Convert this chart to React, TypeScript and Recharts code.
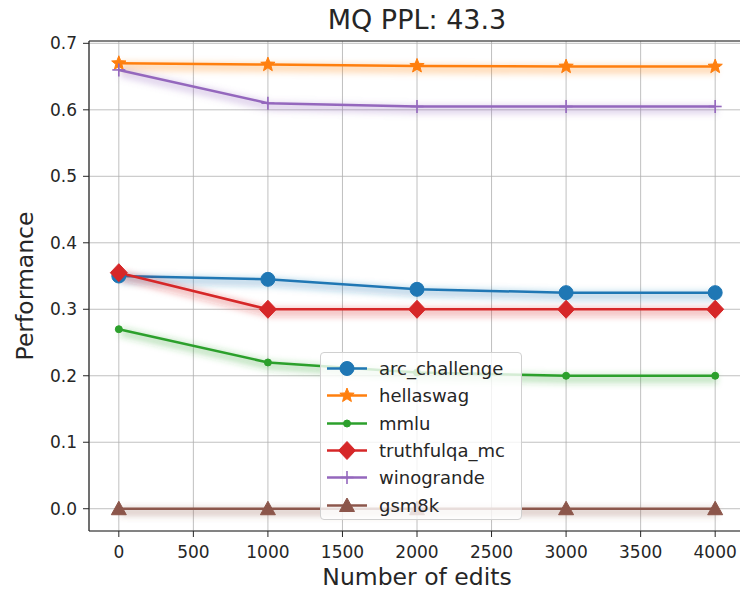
import React from 'react';
import { LineChart, Line, XAxis, YAxis, CartesianGrid, Legend, ReferenceLine } from 'recharts';

const edits = [0, 1000, 2000, 3000, 4000];
const arcChallenge = [0.35, 0.345, 0.33, 0.325, 0.325];
const hellaswag = [0.67, 0.668, 0.666, 0.665, 0.665];
const mmlu = [0.27, 0.22, 0.205, 0.2, 0.2];
const truthfulqaMc = [0.355, 0.3, 0.3, 0.3, 0.3];
const winogrande = [0.66, 0.61, 0.605, 0.605, 0.605];
const gsm8k = [0, 0, 0, 0, 0];

const xTicks = [0, 500, 1000, 1500, 2000, 2500, 3000, 3500, 4000];
const yTicks = [0, 0.1, 0.2, 0.3, 0.4, 0.5, 0.6, 0.7];

const title = 'MQ PPL: 43.3';
const xLabel = 'Number of edits';
const yLabel = 'Performance';

type MarkerKind = 'circle' | 'star' | 'point' | 'diamond' | 'plus' | 'triangle';

const series: { key: string; values: number[]; color: string; marker: MarkerKind }[] = [
  { key: 'arc_challenge', values: arcChallenge, color: '#1f77b4', marker: 'circle' },
  { key: 'hellaswag', values: hellaswag, color: '#ff7f0e', marker: 'star' },
  { key: 'mmlu', values: mmlu, color: '#2ca02c', marker: 'point' },
  { key: 'truthfulqa_mc', values: truthfulqaMc, color: '#d62728', marker: 'diamond' },
  { key: 'winogrande', values: winogrande, color: '#9467bd', marker: 'plus' },
  { key: 'gsm8k', values: gsm8k, color: '#8c564b', marker: 'triangle' },
];

const data = edits.map((e, i) => {
  const row: Record<string, number> = { edits: e };
  series.forEach((s) => {
    row[s.key] = s.values[i];
  });
  return row;
});

const X_DOMAIN: [number, number] = [-200, 4200];
const Y_DOMAIN: [number, number] = [-0.0335, 0.7035];

const FONT = '"DejaVu Sans", sans-serif';
const TEXT = '#262626';
const GRID = '#b0b0b0';

function starPath(cx: number, cy: number, R: number, r: number) {
  const pts: string[] = [];
  for (let i = 0; i < 10; i++) {
    const rad = i % 2 === 0 ? R : r;
    const a = -Math.PI / 2 + (i * Math.PI) / 5;
    pts.push(`${(cx + rad * Math.cos(a)).toFixed(2)},${(cy + rad * Math.sin(a)).toFixed(2)}`);
  }
  return 'M' + pts.join('L') + 'Z';
}

function Marker({ kind, cx, cy, color }: { kind: MarkerKind; cx: number; cy: number; color: string }) {
  switch (kind) {
    case 'circle':
      return <circle cx={cx} cy={cy} r={7} fill={color} stroke={color} strokeWidth={1} />;
    case 'star':
      return <path d={starPath(cx, cy, 7.5, 3.2)} fill={color} stroke={color} strokeWidth={1} />;
    case 'point':
      return <circle cx={cx} cy={cy} r={3.5} fill={color} stroke={color} strokeWidth={1} />;
    case 'diamond':
      return (
        <path
          d={`M${cx},${cy - 9}L${cx + 8.5},${cy}L${cx},${cy + 9}L${cx - 8.5},${cy}Z`}
          fill={color}
          stroke={color}
          strokeWidth={1}
        />
      );
    case 'plus':
      return (
        <g stroke={color} strokeWidth={1.6}>
          <line x1={cx - 6.5} y1={cy} x2={cx + 6.5} y2={cy} />
          <line x1={cx} y1={cy - 6.5} x2={cx} y2={cy + 6.5} />
        </g>
      );
    case 'triangle':
      return (
        <path
          d={`M${cx},${cy - 7.5}L${cx + 7.5},${cy + 6}L${cx - 7.5},${cy + 6}Z`}
          fill={color}
          stroke={color}
          strokeWidth={1}
        />
      );
  }
  return null;
}

function LegendBox() {
  return (
    <div
      style={{
        width: 202,
        height: 168,
        boxSizing: 'border-box',
        border: '1px solid #d0d0d0',
        borderRadius: 4,
        background: 'rgba(255,255,255,0.8)',
        paddingTop: 2,
      }}
    >
      {series.map((s) => (
        <div key={s.key} style={{ height: 27.3, display: 'flex', alignItems: 'center' }}>
          <svg width={58} height={27} style={{ display: 'block', flex: 'none' }}>
            <line x1={6} y1={13.5} x2={46} y2={13.5} stroke={s.color} strokeWidth={2.5} />
            <Marker kind={s.marker} cx={26} cy={13.5} color={s.color} />
          </svg>
          <span style={{ fontFamily: FONT, fontSize: 18, color: TEXT, lineHeight: '27px' }}>{s.key}</span>
        </div>
      ))}
    </div>
  );
}

export default function App() {
  return (
    <div style={{ position: 'absolute', left: 0, top: 0, width: 740, height: 591, background: '#fff', overflow: 'hidden' }}>
      <svg width={740} height={45} style={{ position: 'absolute', left: 0, top: 0 }}>
        <defs>
          <filter id="glow" filterUnits="userSpaceOnUse" x={0} y={0} width={760} height={591}>
            <feOffset dx={2} dy={2.5} />
            <feGaussianBlur stdDeviation={3} />
          </filter>
        </defs>
        <text x={417} y={29} textAnchor="middle" fontFamily={FONT} fontSize={27} fill={TEXT}>
          {title}
        </text>
      </svg>
      <div style={{ position: 'absolute', left: 0, top: 0 }}>
        <LineChart width={745} height={591} data={data} margin={{ top: 41, right: 0, bottom: 30, left: 29 }}>
          <CartesianGrid stroke={GRID} strokeWidth={0.8} />
          <XAxis
            dataKey="edits"
            type="number"
            domain={X_DOMAIN}
            ticks={xTicks}
            interval={0}
            height={30}
            tickSize={6}
            tickMargin={9}
            axisLine={{ stroke: '#262626', strokeWidth: 1.2 }}
            tickLine={{ stroke: '#262626', strokeWidth: 1 }}
            tick={{ fill: TEXT, fontSize: 17, fontFamily: FONT }}
            label={{
              content: (p: any) => {
                const vb = p.viewBox || { x: 89, width: 656 };
                return (
                  <text x={vb.x + vb.width / 2} y={585} textAnchor="middle" fontFamily={FONT} fontSize={23.5} fill={TEXT}>
                    {xLabel}
                  </text>
                );
              },
            }}
          />
          <YAxis
            type="number"
            domain={Y_DOMAIN}
            ticks={yTicks}
            interval={0}
            width={60}
            tickSize={6}
            tickMargin={6}
            tickFormatter={(v: number) => v.toFixed(1)}
            axisLine={{ stroke: '#262626', strokeWidth: 1.2 }}
            tickLine={{ stroke: '#262626', strokeWidth: 1 }}
            tick={{ fill: TEXT, fontSize: 17, fontFamily: FONT }}
            label={{
              content: (p: any) => {
                const vb = p.viewBox || { y: 41, height: 490 };
                const cy = vb.y + vb.height / 2;
                return (
                  <text
                    x={33}
                    y={cy}
                    textAnchor="middle"
                    transform={`rotate(-90, 33, ${cy})`}
                    fontFamily={FONT}
                    fontSize={23.5}
                    fill={TEXT}
                  >
                    {yLabel}
                  </text>
                );
              },
            }}
          />
          <ReferenceLine y={Y_DOMAIN[1]} stroke="#262626" strokeWidth={1.2} ifOverflow="extendDomain" />
          {series.flatMap((s) => [
            <Line
              key={s.key + '-glow'}
              dataKey={s.key}
              stroke={s.color}
              strokeWidth={9}
              strokeOpacity={0.28}
              filter="url(#glow)"
              dot={false}
              activeDot={false}
              legendType="none"
              isAnimationActive={false}
            />,
            <Line
              key={s.key}
              dataKey={s.key}
              stroke={s.color}
              strokeWidth={2.5}
              dot={(p: any) => (
                <g key={`${s.key}-dot-${p.index}`}>
                  <Marker kind={s.marker} cx={p.cx} cy={p.cy} color={s.color} />
                </g>
              )}
              activeDot={false}
              isAnimationActive={false}
            />,
          ])}
          <Legend
            layout="horizontal"
            verticalAlign="middle"
            align="center"
            content={() => <LegendBox />}
            wrapperStyle={{ left: 320, top: 352, width: 202, height: 168 }}
          />
        </LineChart>
      </div>
    </div>
  );
}
